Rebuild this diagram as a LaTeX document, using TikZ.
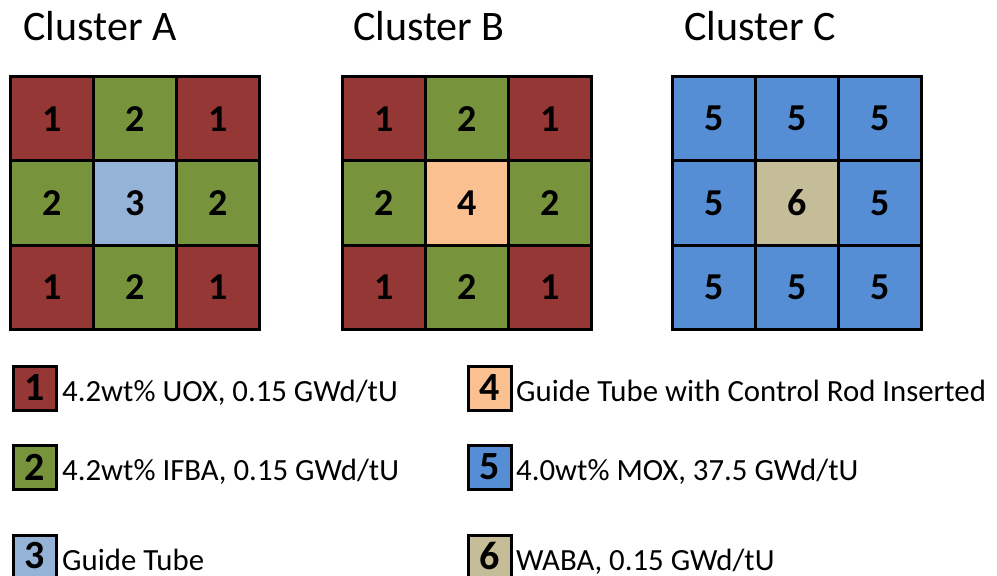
\documentclass[tikz,border=0pt]{standalone}
\usepackage{fontspec}
\setmainfont{Carlito}
\definecolor{cred}{HTML}{953735}
\definecolor{cgreen}{HTML}{77933C}
\definecolor{clblue}{HTML}{95B3D7}
\definecolor{corange}{HTML}{FAC090}
\definecolor{cblue}{HTML}{558ED5}
\definecolor{ctan}{HTML}{C4BD97}
\begin{document}
\begin{tikzpicture}[x=1pt,y=-1pt,
  cell/.style={draw=black,line width=3pt,minimum width=83.3pt,minimum height=84.3pt,inner sep=0pt,
    font=\fontsize{38}{42}\selectfont\bfseries},
  title/.style={font=\fontsize{42}{48}\selectfont,anchor=base,inner sep=0pt},
  legbox/.style={draw=black,line width=3pt,minimum width=43pt,minimum height=44pt,inner sep=0pt},
  legnum/.style={font=\fontsize{40}{44}\selectfont\bfseries,inner sep=0pt},
  legtext/.style={font=\fontsize{30.8}{36}\selectfont,anchor=base west,inner sep=0pt}]
\useasboundingbox (0,0) rectangle (997,576);
% titles
\node[title] (tA) at (100,40) {Cluster A};
\node[title] (tB) at (429,40) {Cluster B};
\node[title] (tC) at (760,40) {Cluster C};
% Cluster A
\node[cell,fill=cred]   (a11) at (51.7,118.7) {1};
\node[cell,fill=cgreen] (a12) at (135,118.7) {2};
\node[cell,fill=cred]   (a13) at (218.3,118.7) {1};
\node[cell,fill=cgreen] (a21) at (51.7,203) {2};
\node[cell,fill=clblue] (a22) at (135,203) {3};
\node[cell,fill=cgreen] (a23) at (218.3,203) {2};
\node[cell,fill=cred]   (a31) at (51.7,287.3) {1};
\node[cell,fill=cgreen] (a32) at (135,287.3) {2};
\node[cell,fill=cred]   (a33) at (218.3,287.3) {1};
% Cluster B
\node[cell,fill=cred]    (b11) at (383.7,118.7) {1};
\node[cell,fill=cgreen]  (b12) at (467,118.7) {2};
\node[cell,fill=cred]    (b13) at (550.3,118.7) {1};
\node[cell,fill=cgreen]  (b21) at (383.7,203) {2};
\node[cell,fill=corange] (b22) at (467,203) {4};
\node[cell,fill=cgreen]  (b23) at (550.3,203) {2};
\node[cell,fill=cred]    (b31) at (383.7,287.3) {1};
\node[cell,fill=cgreen]  (b32) at (467,287.3) {2};
\node[cell,fill=cred]    (b33) at (550.3,287.3) {1};
% Cluster C
\node[cell,fill=cblue] (c11) at (713.7,118.7) {5};
\node[cell,fill=cblue] (c12) at (797,118.7) {5};
\node[cell,fill=cblue] (c13) at (880.3,118.7) {5};
\node[cell,fill=cblue] (c21) at (713.7,203) {5};
\node[cell,fill=ctan]  (c22) at (797,203) {6};
\node[cell,fill=cblue] (c23) at (880.3,203) {5};
\node[cell,fill=cblue] (c31) at (713.7,287.3) {5};
\node[cell,fill=cblue] (c32) at (797,287.3) {5};
\node[cell,fill=cblue] (c33) at (880.3,287.3) {5};
% legend left
\node[legbox,fill=cred]    (l1) at (34.5,388) {};
\node[legbox,fill=cgreen]  (l2) at (34.5,467) {};
\node[legbox,fill=clblue]  (l3) at (34.5,557) {};
\node[legnum] (n1) at (l1.center) {1};
\node[legnum] (n2) at (l2.center) {2};
\node[legnum] (n3) at (34.5,556) {3};
\node[legtext] (t1) at (62,401.5) {4.2wt\% UOX, 0.15 GWd/tU};
\node[legtext] (t2) at (62,480) {4.2wt\% IFBA, 0.15 GWd/tU};
\node[legtext] (t3) at (62,570) {Guide Tube};
% legend right
\node[legbox,fill=corange] (l4) at (489.5,388) {};
\node[legbox,fill=cblue]   (l5) at (489.5,467) {};
\node[legbox,fill=ctan]    (l6) at (489.5,557) {};
\node[legnum] (n4) at (l4.center) {4};
\node[legnum] (n5) at (l5.center) {5};
\node[legnum] (n6) at (489.5,556) {6};
\node[legtext] (t4) at (516,401.5) {Guide Tube with Control Rod Inserted};
\node[legtext] (t5) at (516,480) {4.0wt\% MOX, 37.5 GWd/tU};
\node[legtext] (t6) at (516,570) {WABA, 0.15 GWd/tU};
\end{tikzpicture}
\end{document}
